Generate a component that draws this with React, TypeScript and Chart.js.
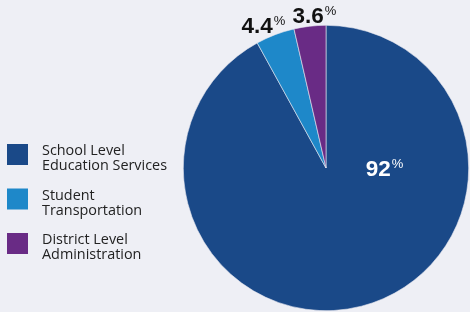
import React, { useEffect, useRef } from "react";
import { Chart, registerables } from "chart.js";

Chart.register(...registerables);

const categories: string[][] = [
  ["School Level", "Education Services"],
  ["Student", "Transportation"],
  ["District Level", "Administration"],
];
const values: number[] = [92, 4.4, 3.6];
const valueLabels: string[] = ["92", "4.4", "3.6"];
const colors: string[] = ["#1a4988", "#1e88c9", "#692b85"];
const BG = "#eeeff5";

const bgPlugin = {
  id: "bg",
  beforeDraw(chart: any) {
    const { ctx, width, height } = chart;
    ctx.save();
    ctx.fillStyle = BG;
    ctx.fillRect(0, 0, width, height);
    ctx.restore();
  },
};

const legendPlugin = {
  id: "customLegend",
  afterDraw(chart: any) {
    const { ctx } = chart;
    const labels = chart.data.labels as string[][];
    const bg = chart.data.datasets[0].backgroundColor as string[];
    ctx.save();
    labels.forEach((lines, i) => {
      const top = 144 + i * 44.5;
      ctx.fillStyle = bg[i];
      ctx.fillRect(7, top, 21, 21);
      ctx.fillStyle = "#222222";
      ctx.font = "14.4px 'Open Sans'";
      ctx.textBaseline = "alphabetic";
      ctx.textAlign = "left";
      lines.forEach((ln, j) => {
        ctx.fillText(ln, 42, top + 11 + j * 15);
      });
    });
    ctx.restore();
  },
};

const nudges = [0, -7, 6];

const valuePlugin = {
  id: "valueLabels",
  afterDatasetsDraw(chart: any) {
    const { ctx } = chart;
    const meta = chart.getDatasetMeta(0);
    ctx.save();
    meta.data.forEach((arc: any, i: number) => {
      const { x, y, startAngle, endAngle, outerRadius } = arc.getProps(
        ["x", "y", "startAngle", "endAngle", "outerRadius"],
        true
      );
      let px: number, py: number, color: string;
      if (i === 0) {
        px = x + outerRadius * 0.41;
        py = y;
        color = "#ffffff";
      } else {
        const mid = (startAngle + endAngle) / 2;
        const r = outerRadius + 13;
        px = x + r * Math.cos(mid) + nudges[i];
        py = y + r * Math.sin(mid) + 2;
        color = "#111111";
      }
      const main = valueLabels[i];
      const big = "bold 22.5px 'Liberation Sans'";
      const small = "13px 'Liberation Sans'";
      ctx.font = big;
      const w1 = ctx.measureText(main).width;
      ctx.font = small;
      const w2 = ctx.measureText("%").width;
      const left = px - (w1 + w2 + 1) / 2;
      const base = py + 8;
      ctx.fillStyle = color;
      ctx.textAlign = "left";
      ctx.textBaseline = "alphabetic";
      ctx.font = big;
      ctx.fillText(main, left, base);
      ctx.font = small;
      ctx.fillText("%", left + w1 + 1, base - 8);
    });
    ctx.restore();
  },
};

export default function App() {
  const ref = useRef<HTMLCanvasElement | null>(null);
  useEffect(() => {
    document.body.style.margin = "0";
    document.body.style.background = BG;
    if (!ref.current) return;
    const chart = new Chart(ref.current, {
      type: "pie",
      data: {
        labels: categories as any,
        datasets: [
          {
            data: values,
            backgroundColor: colors,
            borderColor: "#e8e8f0",
            borderWidth: 0.6,
          },
        ],
      },
      options: {
        animation: false,
        responsive: true,
        maintainAspectRatio: false,
        layout: { padding: { left: 182, top: 25, bottom: 1, right: 0 } },
        plugins: {
          legend: { display: false },
          tooltip: { enabled: false },
        },
      },
      plugins: [bgPlugin, valuePlugin, legendPlugin],
    });
    return () => chart.destroy();
  }, []);
  return (
    <div style={{ width: 470, height: 312, position: "relative" }}>
      <canvas ref={ref} />
    </div>
  );
}
